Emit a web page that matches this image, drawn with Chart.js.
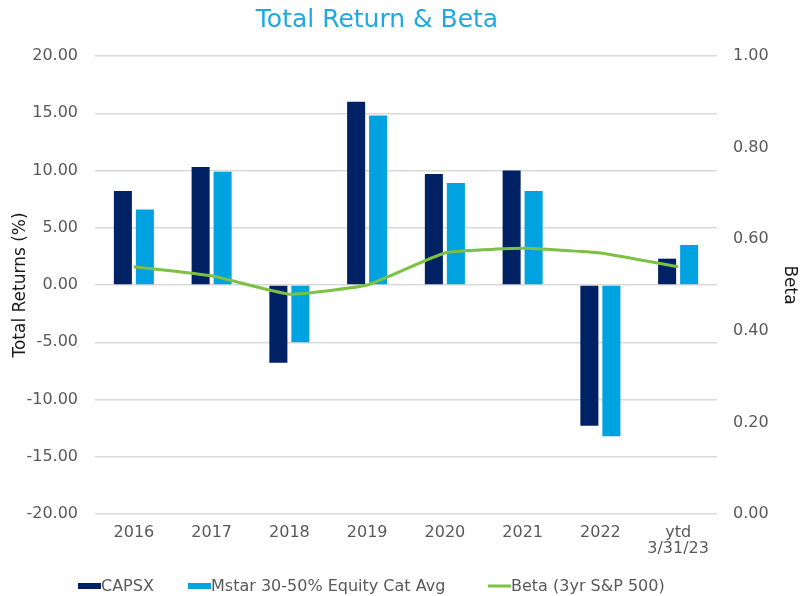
<!DOCTYPE html>
<html>
<head>
<meta charset="utf-8">
<script src="https://cdn.jsdelivr.net/npm/chart.js@4.4.1/dist/chart.umd.min.js"></script>
<style>
  html, body { margin: 0; padding: 0; background: #ffffff; }
  #wrap { width: 802px; height: 596px; }
</style>
</head>
<body>
<div id="wrap"><canvas id="c" width="802" height="596"></canvas></div>
<script>
// ---- data ----
const categories = ['2016', '2017', '2018', '2019', '2020', '2021', '2022', ['ytd', '3/31/23']];
const capsxReturns = [8.2, 10.3, -6.8, 16.0, 9.7, 10.0, -12.3, 2.3];
const mstarReturns = [6.6, 9.9, -5.0, 14.8, 8.9, 8.2, -13.2, 3.5];
const betaValues = [0.54, 0.52, 0.48, 0.50, 0.57, 0.58, 0.57, 0.54];
const seriesNames = ['CAPSX', 'Mstar 30-50% Equity Cat Avg', 'Beta (3yr S&P 500)'];
const chartTitle = 'Total Return & Beta';
const leftAxisTitle = 'Total Returns (%)';
const rightAxisTitle = 'Beta';

const FONT = '"DejaVu Sans", Verdana, sans-serif';
const TICK_COLOR = '#595959';

// custom title (offset centre like the reference)
const titlePlugin = {
  id: 'customTitle',
  afterDraw(chart) {
    const ctx = chart.ctx;
    ctx.save();
    ctx.font = '25px ' + FONT;
    ctx.fillStyle = '#20A8E0';
    ctx.textAlign = 'center';
    ctx.textBaseline = 'middle';
    ctx.fillText(chartTitle, 377, 20);
    ctx.restore();
  }
};

// custom legend placed like the reference
const legendPlugin = {
  id: 'customLegend',
  afterDraw(chart) {
    const ctx = chart.ctx;
    const starts = [78, 188, 488];
    const symW = 23;
    const cy = 586;
    ctx.save();
    ctx.font = '16px ' + FONT;
    ctx.textBaseline = 'middle';
    ctx.textAlign = 'left';
    chart.data.datasets.forEach((ds, i) => {
      const x = starts[i];
      if (ds.type === 'line') {
        ctx.strokeStyle = ds.borderColor;
        ctx.lineWidth = 3;
        ctx.beginPath();
        ctx.moveTo(x, cy);
        ctx.lineTo(x + symW, cy);
        ctx.stroke();
      } else {
        ctx.fillStyle = ds.backgroundColor;
        ctx.fillRect(x, cy - 3, symW, 6);
      }
      ctx.fillStyle = TICK_COLOR;
      ctx.fillText(ds.label, x + symW, cy + 1);
    });
    ctx.restore();
  }
};

new Chart(document.getElementById('c'), {
  data: {
    labels: categories,
    datasets: [
      {
        type: 'bar',
        label: seriesNames[0],
        data: capsxReturns,
        backgroundColor: '#002163',
        yAxisID: 'y',
        order: 1,
        barPercentage: 0.82,
        categoryPercentage: 0.566
      },
      {
        type: 'bar',
        label: seriesNames[1],
        data: mstarReturns,
        backgroundColor: '#00A3E0',
        yAxisID: 'y',
        order: 1,
        barPercentage: 0.82,
        categoryPercentage: 0.566
      },
      {
        type: 'line',
        label: seriesNames[2],
        data: betaValues,
        borderColor: '#7BC143',
        backgroundColor: '#7BC143',
        borderWidth: 3,
        pointRadius: 0,
        pointHoverRadius: 0,
        tension: 0.12,
        fill: false,
        yAxisID: 'y1',
        order: 0
      }
    ]
  },
  options: {
    responsive: false,
    animation: false,
    devicePixelRatio: 1,
    layout: { padding: { top: 56, bottom: 0, left: 0, right: 0 } },
    plugins: {
      legend: { display: false },
      title: { display: false },
      tooltip: { enabled: false }
    },
    scales: {
      x: {
        afterFit(s) { s.height = 82; },
        grid: { display: false, drawTicks: false },
        border: { display: false },
        ticks: {
          color: TICK_COLOR,
          font: { family: FONT, size: 16, lineHeight: 1.05 },
          padding: 10,
          maxRotation: 0,
          autoSkip: false
        }
      },
      y: {
        position: 'left',
        min: -20,
        max: 20,
        afterFit(s) { s.width = 95; },
        grid: { color: '#D9D9D9', lineWidth: 1.5, drawTicks: false },
        border: { display: false },
        ticks: {
          stepSize: 5,
          color: TICK_COLOR,
          font: { family: FONT, size: 16 },
          padding: 17,
          callback: v => Number(v).toFixed(2)
        },
        title: {
          display: true,
          text: leftAxisTitle,
          color: '#1A1A1A',
          font: { family: FONT, size: 17 },
          padding: { top: 10, bottom: 0 }
        }
      },
      y1: {
        position: 'right',
        min: 0,
        max: 1,
        afterFit(s) { s.width = 85; },
        grid: { display: false, drawOnChartArea: false, drawTicks: false },
        border: { display: false },
        ticks: {
          stepSize: 0.2,
          color: TICK_COLOR,
          font: { family: FONT, size: 16 },
          padding: 16,
          callback: v => Number(v).toFixed(2)
        },
        title: {
          display: true,
          text: rightAxisTitle,
          color: '#1A1A1A',
          font: { family: FONT, size: 17 },
          padding: { top: 2, bottom: 0 }
        }
      }
    }
  },
  plugins: [titlePlugin, legendPlugin]
});
</script>
</body>
</html>
